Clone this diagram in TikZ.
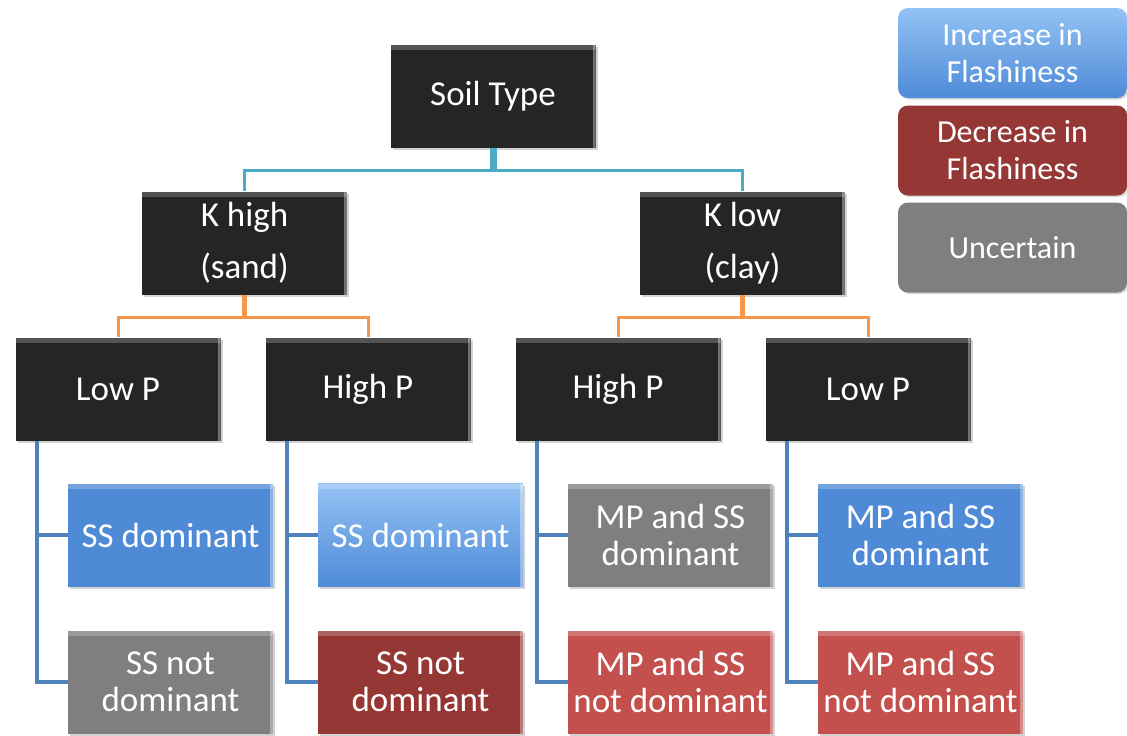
\documentclass[tikz,border=0pt]{standalone}
\usepackage{fontspec}
\setmainfont{Carlito}
\usetikzlibrary{shadows}

\definecolor{boxblack}{HTML}{252525}
\definecolor{leafblue}{HTML}{4F8AD6}
\definecolor{leaflighttop}{HTML}{93C2F4}
\definecolor{leaflightbot}{HTML}{4F8BD8}
\definecolor{leafgray}{HTML}{7F7F7F}
\definecolor{leafdark}{HTML}{953735}
\definecolor{leafred}{HTML}{C4504D}
\definecolor{lineaqua}{HTML}{4BACC6}
\definecolor{lineorange}{HTML}{F79646}
\definecolor{lineblue}{HTML}{4F81BD}

\tikzset{
	box/.style={rectangle, minimum width=102.5pt, minimum height=51.5pt, inner sep=0pt,
		text=white, align=center, font=\fontsize{17.5}{18.5}\selectfont,
		drop shadow={opacity=.35, shadow xshift=1pt, shadow yshift=-1pt},
		path picture={\fill[white, opacity=.22] (path picture bounding box.north west) rectangle ([yshift=-2.5pt]path picture bounding box.north east);
			\fill[white, opacity=.35] (path picture bounding box.north east) rectangle ([xshift=-1.5pt]path picture bounding box.south east);}},
	dark/.style={box, fill=boxblack},
	blueleaf/.style={box, fill=leafblue},
	lightleaf/.style={box, top color=leaflighttop, bottom color=leaflightbot},
	grayleaf/.style={box, fill=leafgray},
	darkleaf/.style={box, fill=leafdark},
	redleaf/.style={box, fill=leafred},
	key/.style={rectangle, rounded corners=5pt, minimum width=114.5pt, minimum height=45pt, inner sep=0pt,
		text=white, align=center, font=\fontsize{16}{18.5}\selectfont,
		drop shadow={opacity=.3, shadow xshift=.8pt, shadow yshift=-.8pt}},
	aqua_line/.style={draw=lineaqua, line width=1.5pt},
	orange_line/.style={draw=lineorange, line width=1.5pt},
	blue_line/.style={draw=lineblue, line width=1.75pt},
}

\begin{document}
\begin{tikzpicture}[x=.5pt, y=-.5pt]
		\useasboundingbox[fill=white] (0, 0) rectangle (1127, 735);

		% tree
		\node[dark] (soil) at (493, 96) {Soil Type};
		\node[dark] (k_high) at (244.5, 243) {K high\\[7.5pt](sand)};
		\node[dark] (k_low) at (742.5, 243) {K low\\[7.5pt](clay)};

		\node[dark] (lowp_sand) at (118, 389) {Low P};
		\node[dark] (highp_sand) at (368, 389) {High P};
		\node[dark] (highp_clay) at (618, 389) {High P};
		\node[dark] (lowp_clay) at (868, 389) {Low P};

		\node[blueleaf] (dom_a) at (170.5, 535) {SS dominant};
		\node[grayleaf] (notdom_a) at (170.5, 682) {SS not\\dominant};
		\node[lightleaf] (dom_b) at (420.5, 535) {SS dominant};
		\node[darkleaf] (notdom_b) at (420.5, 682) {SS not\\dominant};
		\node[grayleaf] (dom_c) at (670.5, 535) {MP and SS\\dominant};
		\node[redleaf] (notdom_c) at (670.5, 682) {MP and SS\\not dominant};
		\node[blueleaf] (dom_d) at (920.5, 535) {MP and SS\\dominant};
		\node[redleaf] (notdom_d) at (920.5, 682) {MP and SS\\not dominant};

		% legend
		\node[key, top color=leaflighttop, bottom color=leaflightbot] (increase) at (1012.5, 53) {Increase in\\Flashiness};
		\node[key, fill=leafdark] (decrease) at (1012.5, 150.5) {Decrease in\\Flashiness};
		\node[key, fill=leafgray] (uncertain) at (1012.5, 247.5) {Uncertain};

		% connectors
		\coordinate (soil_bus) at (493, 170);
		\coordinate (sand_bus) at (244.5, 317);
		\coordinate (clay_bus) at (742.5, 317);
		\draw[aqua_line, line width=3.5pt] (soil) -- (soil_bus);
		\draw[aqua_line] (k_high.north) |- (soil_bus) -| (k_low.north);
		\draw[orange_line, line width=2.5pt] (k_high) -- (sand_bus);
		\draw[orange_line] (lowp_sand.north) |- (sand_bus) -| (highp_sand.north);
		\draw[orange_line, line width=2.5pt] (k_low) -- (clay_bus);
		\draw[orange_line] (highp_clay.north) |- (clay_bus) -| (lowp_clay.north);

		\foreach \p/\l in {lowp_sand/a, highp_sand/b, highp_clay/c, lowp_clay/d} {
			\draw[blue_line] ([xshift=11pt]\p.south west) |- (dom_\l.west);
			\draw[blue_line] ([xshift=11pt]\p.south west) |- (notdom_\l.west);
		}
	\end{tikzpicture}
\end{document}
